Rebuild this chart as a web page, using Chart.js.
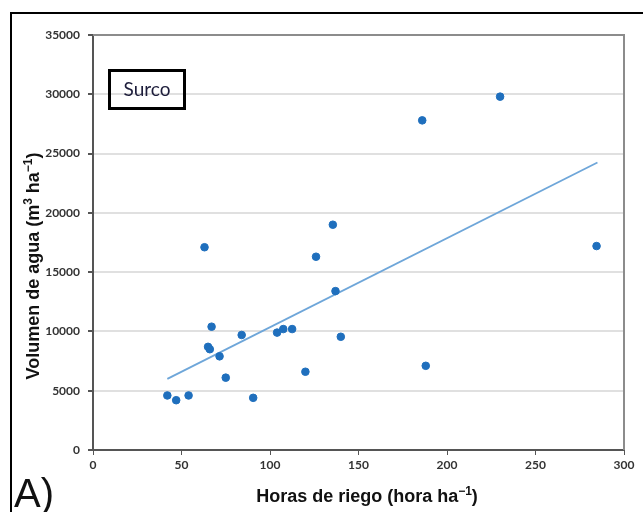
<!DOCTYPE html>
<html>
<head>
<meta charset="utf-8">
<script src="https://cdn.jsdelivr.net/npm/chart.js@4"></script>
<style>
  body { margin: 0; background: #fff; }
  #wrap { width: 643px; height: 512px; position: relative; }
</style>
</head>
<body>
<div id="wrap"><canvas id="chart" width="643" height="512"></canvas></div>
<script>
// values
const horas = [42, 47, 54, 63, 65, 66, 67, 71.5, 75, 84, 90.5, 104, 107.5, 112.5, 120, 126, 135.5, 137, 140, 186, 188, 230, 284.5];
const volumen = [4600, 4200, 4600, 17100, 8700, 8500, 10400, 7900, 6100, 9700, 4400, 9900, 10200, 10200, 6600, 16300, 19000, 13400, 9550, 27800, 7100, 29800, 17200];
const tendenciaX = [42, 285];
const tendenciaY = [6000, 24250];
const xTicks = [0, 50, 100, 150, 200, 250, 300];
const yTicks = [0, 5000, 10000, 15000, 20000, 25000, 30000, 35000];

// titles as [text, superscript?] pieces
const xTitle = [['Horas de riego (hora ha', false], ['\u22121', true], [')', false]];
const yTitle = [['Volumen de agua (m', false], ['3', true], [' ha', false], ['\u22121', true], [')', false]];
const panelLabel = 'A)';
const boxLabel = 'Surco';

const puntos = horas.map((h, i) => ({ x: h, y: volumen[i] }));
const tendencia = tendenciaX.map((h, i) => ({ x: h, y: tendenciaY[i] }));

const baseFont = 'bold 18px "Liberation Sans"';
const supFont = 'bold 12px "Liberation Sans"';

function drawTitle(ctx, parts, cx, cy) {
  let total = 0;
  parts.forEach(([t, sup]) => {
    ctx.font = sup ? supFont : baseFont;
    total += ctx.measureText(t).width;
  });
  let x = cx - total / 2;
  ctx.textAlign = 'left';
  ctx.textBaseline = 'alphabetic';
  parts.forEach(([t, sup]) => {
    ctx.font = sup ? supFont : baseFont;
    ctx.fillText(t, x, sup ? cy - 7 : cy);
    x += ctx.measureText(t).width;
  });
}

const decor = {
  id: 'decor',
  afterDraw(chart) {
    const ctx = chart.ctx;
    const a = chart.chartArea;
    ctx.save();
    // plot box top/right
    ctx.strokeStyle = '#8c8c8c';
    ctx.lineWidth = 2;
    ctx.beginPath();
    ctx.moveTo(a.left, a.top);
    ctx.lineTo(a.right, a.top);
    ctx.lineTo(a.right, a.bottom);
    ctx.stroke();

    // outer frame
    ctx.strokeStyle = '#000';
    ctx.lineWidth = 2;
    ctx.beginPath();
    ctx.moveTo(11, 512);
    ctx.lineTo(11, 13);
    ctx.lineTo(643, 13);
    ctx.stroke();

    // Surco box
    ctx.lineWidth = 3;
    ctx.strokeRect(109.5, 70.5, 75, 38);
    ctx.fillStyle = '#1c1c3a';
    ctx.font = '19px Lato';
    ctx.textAlign = 'center';
    ctx.textBaseline = 'middle';
    ctx.fillText(boxLabel, 147, 90);

    // axis titles
    ctx.fillStyle = '#111';
    drawTitle(ctx, xTitle, 367, 502);
    ctx.save();
    ctx.translate(39, 266);
    ctx.rotate(-Math.PI / 2);
    drawTitle(ctx, yTitle, 0, 0);
    ctx.restore();

    // panel label
    ctx.font = '40px "Liberation Sans"';
    ctx.textAlign = 'left';
    ctx.textBaseline = 'alphabetic';
    ctx.fillText(panelLabel, 14, 507);
    ctx.restore();
  }
};

new Chart(document.getElementById('chart'), {
  type: 'scatter',
  data: {
    datasets: [
      {
        label: 'Surco',
        data: puntos,
        backgroundColor: '#1f6fbd',
        borderColor: '#1f6fbd',
        pointRadius: 3.8,
        pointHoverRadius: 3.8
      },
      {
        label: 'Tendencia',
        type: 'line',
        data: tendencia,
        borderColor: '#6ea6d9',
        borderWidth: 1.8,
        pointRadius: 0,
        fill: false
      }
    ]
  },
  options: {
    responsive: false,
    devicePixelRatio: 1,
    animation: false,
    layout: { padding: { top: 35, right: 19, left: 0, bottom: 0 } },
    plugins: {
      legend: { display: false },
      tooltip: { enabled: false }
    },
    scales: {
      x: {
        type: 'linear',
        min: 0,
        max: 300,
        afterBuildTicks: (s) => { s.ticks = xTicks.map(v => ({ value: v })); },
        afterFit: (s) => { s.height = 62; },
        ticks: { font: { family: 'Lato', size: 12, weight: 'bold' }, color: '#333', padding: 3, maxRotation: 0, callback: (v) => String(v) },
        grid: { drawOnChartArea: false, drawTicks: true, tickLength: 5, tickColor: '#555', color: '#555' },
        border: { color: '#555', width: 2 }
      },
      y: {
        min: 0,
        max: 35000,
        afterBuildTicks: (s) => { s.ticks = yTicks.map(v => ({ value: v })); },
        afterFit: (s) => { s.width = 93; },
        ticks: { font: { family: 'Lato', size: 12, weight: 'bold' }, color: '#333', padding: 8, callback: (v) => String(v) },
        grid: { color: '#e0e0e0', lineWidth: 2, tickLength: 5, tickColor: '#555' },
        border: { color: '#555', width: 2 }
      }
    }
  },
  plugins: [decor]
});
</script>
</body>
</html>
